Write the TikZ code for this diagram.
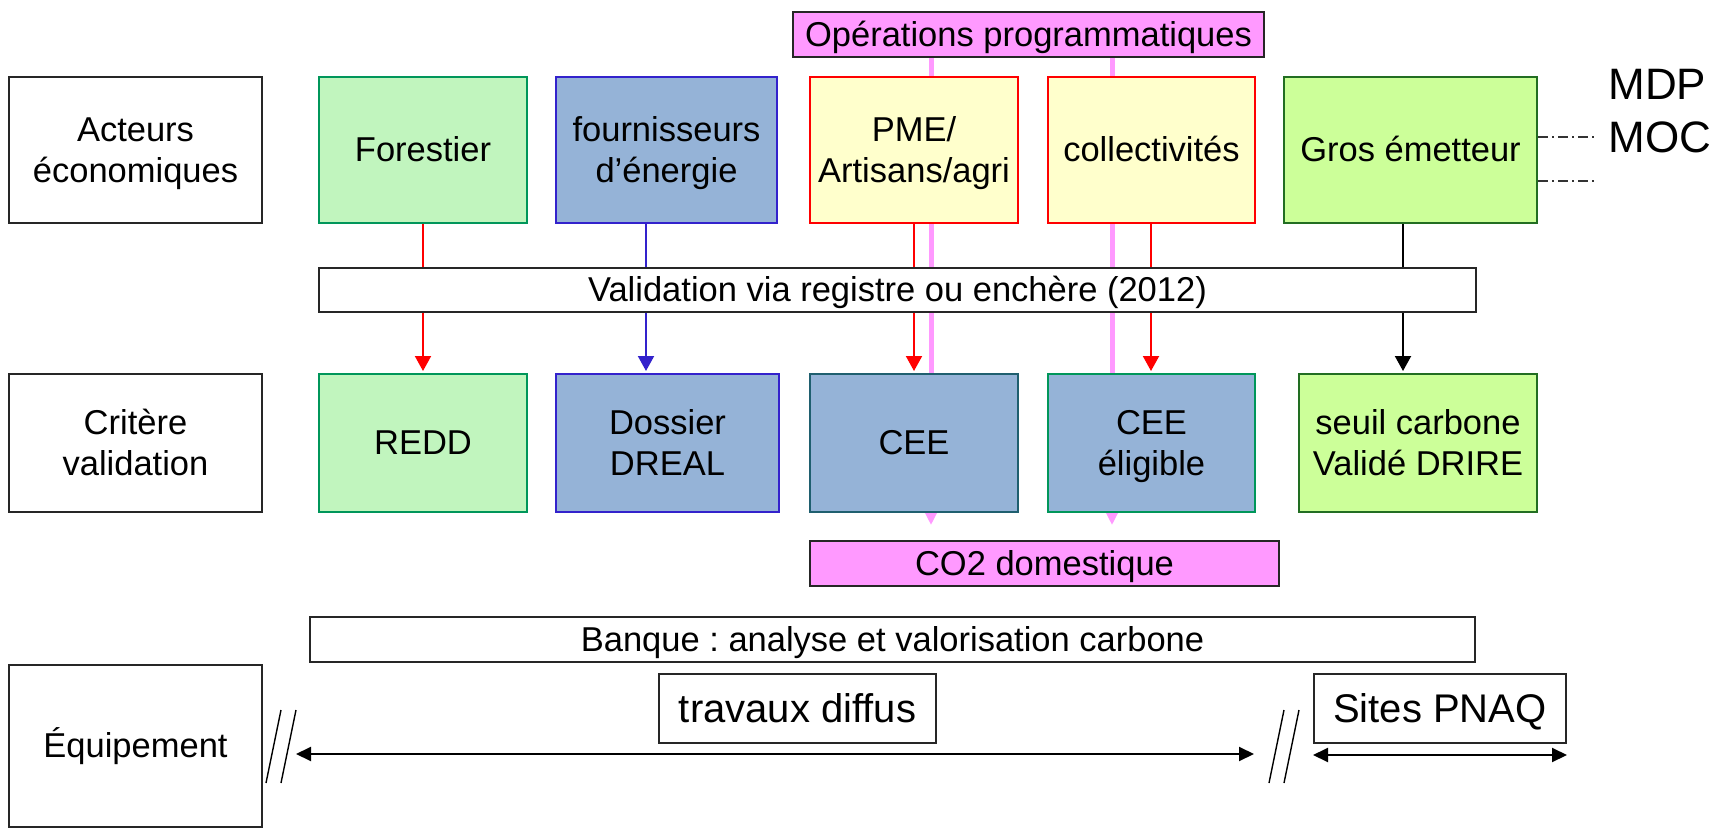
\documentclass[tikz,border=0pt]{standalone}
\usepackage{fontspec}
\setmainfont{Liberation Sans}
\usetikzlibrary{arrows.meta}
\pgfdeclarelayer{background}
\pgfsetlayers{background,main}
\frenchspacing

\definecolor{forestfill}{RGB}{193,245,190}
\definecolor{forestline}{RGB}{0,150,90}
\definecolor{steelfill}{RGB}{149,179,215}
\definecolor{violetline}{RGB}{51,34,204}
\definecolor{creamfill}{RGB}{255,255,204}
\definecolor{tealline}{RGB}{31,95,111}
\definecolor{limefill}{RGB}{204,255,153}
\definecolor{limeline}{RGB}{34,110,34}
\definecolor{orchid}{RGB}{255,153,255}

\begin{document}
\begin{tikzpicture}[x=0.5pt,y=-0.5pt,
  font=\fontsize{17.25pt}{20.75pt}\selectfont,
  % fixed line metrics so that text sits on the font's ascent/descent box
  oneline/.style={text height=15.6pt, text depth=3.66pt},
  twoline/.style={text height=36.35pt, text depth=3.66pt},
  bigline/.style={font=\fontsize{20pt}{24pt}\selectfont, text height=18.1pt, text depth=4.24pt},
  cell/.style={draw, line width=1pt, inner sep=0pt, align=center},
  plainbox/.style={cell, draw=black!85, fill=white},
  actor/.style={cell, minimum width=104pt, minimum height=73pt},
  crit/.style={cell, minimum width=104pt, minimum height=69pt},
  bar/.style={cell, oneline, draw=black!85, minimum height=22.5pt},
  flowarr/.style={line width=1pt, -{Triangle[length=7.5pt,width=8pt]}},
  opline/.style={line width=2.5pt, draw=orchid, -{Triangle[length=6.5pt,width=6pt]}},
  spanarr/.style={line width=1pt, {Triangle[length=7.5pt,width=7pt]}-{Triangle[length=7.5pt,width=7pt]}},
  breakmark/.style={line width=0.7pt},
  dotdash/.style={line width=0.6pt, draw=black!80, dash pattern=on 5pt off 2pt on 1pt off 2pt}
]
\useasboundingbox (0,0) rectangle (1715,829);

% row headers
\node[plainbox, twoline, minimum width=126.5pt, minimum height=73pt] (act) at (135.5,150) {Acteurs\\économiques};
\node[plainbox, twoline, minimum width=126.5pt, minimum height=69pt] (crt) at (135.5,443) {Critère\\validation};
\node[plainbox, oneline, minimum width=126.5pt, minimum height=81pt] (eqp) at (135.5,746) {Équipement};

% economic actors
\node[actor, oneline, draw=forestline, fill=forestfill] (forest) at (423,150) {Forestier};
\node[actor, twoline, draw=violetline, fill=steelfill, minimum width=110.5pt] (fourn) at (666.5,150) {fournisseurs\\d’énergie};
\node[actor, twoline, draw=red, fill=creamfill] (pme) at (914,150) {PME/\\Artisans/agri};
\node[actor, oneline, draw=red, fill=creamfill, minimum width=103.5pt] (coll) at (1151.5,150) {collectivités};
\node[actor, oneline, draw=limeline, fill=limefill, minimum width=126.5pt] (gros) at (1410.5,150) {Gros émetteur};

% validation criteria
\node[crit, oneline, draw=forestline, fill=forestfill] (redd) at (423,443) {REDD};
\node[crit, twoline, draw=violetline, fill=steelfill, minimum width=111.5pt] (doss) at (667.5,443) {Dossier\\DREAL};
\node[crit, oneline, draw=tealline, fill=steelfill] (cee) at (914,443) {CEE};
\node[crit, twoline, draw=forestline, fill=steelfill, minimum width=103.5pt] (ceeel) at (1151.5,443) {CEE\\éligible};
\node[crit, twoline, draw=limeline, fill=limefill, minimum width=119pt] (seuil) at (1418,443) {seuil carbone\\Validé DRIRE};

% horizontal bars
\node[bar, fill=orchid, minimum width=235.5pt] (oper) at (1028.5,34.5) {Opérations programmatiques};
\node[bar, fill=white, minimum width=578.5pt, minimum height=22pt] (valid) at (897.5,290) {Validation via registre ou enchère (2012)};
\node[bar, fill=orchid, minimum width=234.5pt] (co2) at (1044.5,563.5) {CO2 domestique};
\node[bar, fill=white, minimum width=582.5pt] (banque) at (892.5,639.5) {Banque : analyse et valorisation carbone};

% equipment scopes
\node[plainbox, bigline, minimum width=138.5pt, minimum height=34.5pt] (trav) at (797.5,708.5) {travaux diffus};
\node[plainbox, bigline, minimum width=126pt, minimum height=34.5pt] (sites) at (1440,708.5) {Sites PNAQ};

% market mechanisms
\node[anchor=base west, inner sep=0pt, font=\fontsize{22pt}{26pt}\selectfont] (mdp) at (1608,100) {MDP};
\node[anchor=base west, inner sep=0pt, font=\fontsize{22pt}{26pt}\selectfont] (moc) at (1608,153) {MOC};

% column positions of the connectors
\coordinate (xF) at (423,0);
\coordinate (xE) at (646,0);
\coordinate (xP) at (914,0);
\coordinate (xC) at (1151,0);
\coordinate (xG) at (1403,0);
\coordinate (o1) at (931,525);
\coordinate (o2) at (1112,525);
\coordinate (dA) at (1597,137);
\coordinate (dB) at (1597,181);
\coordinate (tL) at (296,754);
\coordinate (tR) at (1254,754);

\begin{pgfonlayer}{background}
  % programme lines running behind the boxes
  \draw[opline] (oper.south -| o1) -- (o1);
  \draw[opline] (oper.south -| o2) -- (o2);
  % validation flows
  \draw[flowarr, red] (forest.south -| xF) -- ([yshift=1pt]redd.north -| xF);
  \draw[flowarr, violetline] (fourn.south -| xE) -- ([yshift=1pt]doss.north -| xE);
  \draw[flowarr, red] (pme.south -| xP) -- ([yshift=1pt]cee.north -| xP);
  \draw[flowarr, red] (coll.south -| xC) -- ([yshift=1pt]ceeel.north -| xC);
  \draw[flowarr, black] (gros.south -| xG) -- ([yshift=1pt]seuil.north -| xG);
\end{pgfonlayer}

% links to MDP / MOC
\draw[dotdash] (gros.east |- dA) -- (dA);
\draw[dotdash] (gros.east |- dB) -- (dB);

% equipment spans
\draw[spanarr] (tL) -- (tR);
\draw[spanarr] ([yshift=-5.5pt]sites.south west) -- ([yshift=-5.5pt]sites.south east);

% break marks
\draw[breakmark] (266,783) -- (281,710);
\draw[breakmark] (281,783) -- (296,710);
\draw[breakmark] (1269,783) -- (1284,710);
\draw[breakmark] (1284,783) -- (1299,710);
\end{tikzpicture}
\end{document}
